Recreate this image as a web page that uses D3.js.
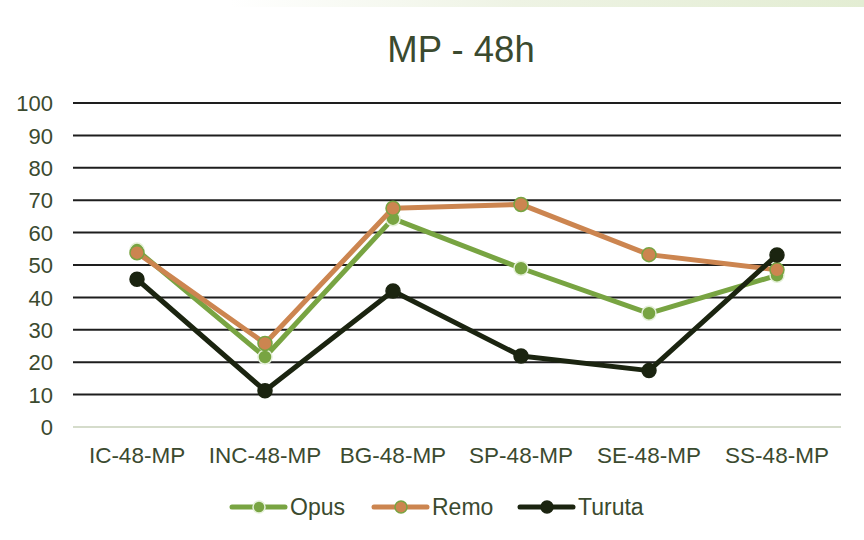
<!DOCTYPE html>
<html>
<head>
<meta charset="utf-8">
<script src="https://cdn.jsdelivr.net/npm/d3@7"></script>
<style>
  body { margin: 0; background: #fff; }
  svg { display: block; font-family: "Liberation Sans", Arial, sans-serif; }
</style>
</head>
<body>
<svg id="chart"></svg>
<script>
var categories = ["IC-48-MP", "INC-48-MP", "BG-48-MP", "SP-48-MP", "SE-48-MP", "SS-48-MP"];
var opus   = [54.6, 21.6, 64.3, 49.0, 35.1, 46.8];
var remo   = [53.8, 25.8, 67.5, 68.7, 53.2, 48.5];
var turuta = [45.6, 11.2, 42.0, 21.9, 17.4, 53.1];
var seriesNames = ["Opus", "Remo", "Turuta"];
var yTicks = [0, 10, 20, 30, 40, 50, 60, 70, 80, 90, 100];

var width = 864, height = 540;
var textColor = "#3b4a2f";

var series = [
  { name: "Opus", values: opus, color: "#78a442", mfill: "#78a442", mstroke: "#e4f0d8" },
  { name: "Remo", values: remo, color: "#cc8550", mfill: "#cc8550", mstroke: "#78a442" },
  { name: "Turuta", values: turuta, color: "#1b2410", mfill: "#1b2410", mstroke: "#1b2410" }
];

var svg = d3.select("#chart")
    .attr("width", width)
    .attr("height", height);

// faint decorative strip at the top
var defs = svg.append("defs");
var grad = defs.append("linearGradient").attr("id", "topband");
grad.append("stop").attr("offset", "0%").attr("stop-color", "#ffffff");
grad.append("stop").attr("offset", "45%").attr("stop-color", "#eef3e4");
grad.append("stop").attr("offset", "100%").attr("stop-color", "#e3edd3");
svg.append("rect")
    .attr("x", 230).attr("y", 0)
    .attr("width", width - 230).attr("height", 7)
    .attr("fill", "url(#topband)");

var x = d3.scaleBand()
    .domain(categories)
    .range([73, 841]);

var y = d3.scaleLinear()
    .domain([0, 100])
    .range([427, 103]);

// title
svg.append("text")
    .attr("x", 461)
    .attr("y", 62)
    .attr("text-anchor", "middle")
    .attr("fill", textColor)
    .style("font-size", "36.5px")
    .text("MP - 48h");

// gridlines
svg.append("g")
  .selectAll("line")
  .data(yTicks)
  .enter().append("line")
    .attr("x1", 73)
    .attr("x2", 841)
    .attr("y1", function(d) { return y(d); })
    .attr("y2", function(d) { return y(d); })
    .attr("stroke", function(d) { return d === 0 ? "#d5dccb" : "#1e1e1e"; })
    .attr("stroke-width", 2);

// y axis labels
var yAxis = d3.axisLeft(y).tickValues(yTicks).tickSize(0).tickPadding(0);
var gy = svg.append("g")
    .attr("transform", "translate(53,0)")
    .call(yAxis);
gy.select(".domain").remove();
gy.selectAll("text")
    .attr("fill", textColor)
    .attr("dy", "0.35em")
    .style("font-size", "22px")
    .style("font-family", "Liberation Sans, Arial, sans-serif");

// x axis labels
var xAxis = d3.axisBottom(x).tickSize(0).tickPadding(0);
var gx = svg.append("g")
    .attr("transform", "translate(0,463)")
    .call(xAxis);
gx.select(".domain").remove();
gx.selectAll("text")
    .attr("fill", textColor)
    .attr("dy", "0")
    .style("font-size", "22.5px")
    .style("font-family", "Liberation Sans, Arial, sans-serif");

var line = d3.line()
    .x(function(d, i) { return x(categories[i]) + x.bandwidth() / 2; })
    .y(function(d) { return y(d); });

// draw lines + markers, in order
series.forEach(function(s) {
  var g = svg.append("g");
  g.append("path")
      .datum(s.values)
      .attr("d", line)
      .attr("fill", "none")
      .attr("stroke", s.color)
      .attr("stroke-width", 5)
      .attr("stroke-linejoin", "round");
  g.selectAll("circle")
      .data(s.values)
      .enter().append("circle")
      .attr("cx", function(d, i) { return x(categories[i]) + x.bandwidth() / 2; })
      .attr("cy", function(d) { return y(d); })
      .attr("r", 7)
      .attr("fill", s.mfill)
      .attr("stroke", s.mstroke)
      .attr("stroke-width", 1.5);
});

// legend
var legendX = [230, 372, 518];
var legend = svg.append("g")
  .selectAll("g")
  .data(series)
  .enter().append("g")
    .attr("transform", function(d, i) { return "translate(" + legendX[i] + ",507)"; });

legend.append("line")
    .attr("x1", 2).attr("x2", 55)
    .attr("y1", 0).attr("y2", 0)
    .attr("stroke", function(d) { return d.color; })
    .attr("stroke-width", 5)
    .attr("stroke-linecap", "round");

legend.append("circle")
    .attr("cx", 29)
    .attr("cy", 0)
    .attr("r", 6)
    .attr("fill", function(d) { return d.mfill; })
    .attr("stroke", function(d) { return d.mstroke; })
    .attr("stroke-width", 1.5);

legend.append("text")
    .attr("x", 60)
    .attr("y", 0)
    .attr("dy", "0.36em")
    .attr("fill", textColor)
    .style("font-size", "23px")
    .text(function(d, i) { return seriesNames[i]; });
</script>
</body>
</html>
